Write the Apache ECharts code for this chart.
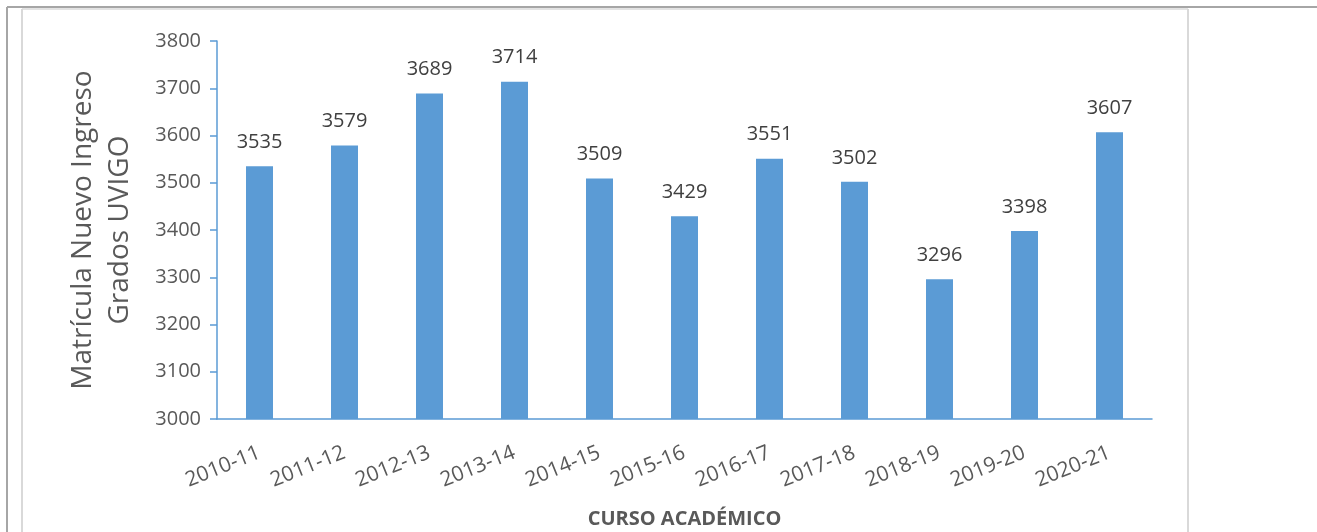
<!DOCTYPE html>
<html>
<head>
<meta charset="utf-8">
<script src="https://cdn.jsdelivr.net/npm/echarts@6/dist/echarts.min.js"></script>
<style>
  html, body { margin: 0; padding: 0; background: #fff; }
  #chart { width: 1317px; height: 532px; }
</style>
</head>
<body>
<div id="chart"></div>
<script>
// cursos y matrícula de nuevo ingreso
const cursos = ['2010-11', '2011-12', '2012-13', '2013-14', '2014-15', '2015-16',
  '2016-17', '2017-18', '2018-19', '2019-20', '2020-21']
const matricula = [3535, 3579, 3689, 3714, 3509, 3429, 3551, 3502, 3296, 3398, 3607]
const yTicks = [3000, 3800, 100] // min, max, interval

const font = '"Open Sans", sans-serif'
const chart = echarts.init(document.getElementById('chart'))

const option = {
  animation: false,
  grid: { left: 217, right: 165, top: 41, bottom: 113, outerBoundsMode: 'none', containLabel: false },
  graphic: [
    // marco de la tabla
    { type: 'line', shape: { x1: 7, y1: 7, x2: 1317, y2: 7 }, style: { stroke: '#a6a6a6', lineWidth: 2 } },
    { type: 'line', shape: { x1: 7, y1: 7, x2: 7, y2: 532 }, style: { stroke: '#a6a6a6', lineWidth: 2 } },
    { type: 'line', shape: { x1: 22, y1: 9, x2: 1188, y2: 9 }, style: { stroke: '#e3e3e3', lineWidth: 2 } },
    { type: 'line', shape: { x1: 22, y1: 9, x2: 22, y2: 532 }, style: { stroke: '#d9d9d9', lineWidth: 2 } },
    { type: 'line', shape: { x1: 1188, y1: 9, x2: 1188, y2: 532 }, style: { stroke: '#d9d9d9', lineWidth: 2 } }
  ],
  xAxis: {
    type: 'category',
    data: cursos,
    name: 'CURSO ACADÉMICO',
    nameLocation: 'middle',
    nameGap: 90,
    nameTextStyle: { fontFamily: font, fontSize: 20, fontWeight: 'bold', color: '#595959' },
    axisLine: { lineStyle: { color: '#5b9bd5', width: 1.5 } },
    axisTick: { length: 7, lineStyle: { color: '#5b9bd5', width: 1.5 } },
    axisLabel: { rotate: 22, margin: 33, fontFamily: font, fontSize: 21, color: '#595959' }
  },
  yAxis: {
    type: 'value',
    min: yTicks[0],
    max: yTicks[1],
    interval: yTicks[2],
    name: 'Matrícula Nuevo Ingreso\nGrados UVIGO',
    nameLocation: 'middle',
    nameGap: 78,
    nameTextStyle: { fontFamily: font, fontSize: 28, lineHeight: 37, color: '#595959' },
    axisLine: { show: true, lineStyle: { color: '#5b9bd5', width: 1.5 } },
    axisTick: { show: true, length: 7, lineStyle: { color: '#5b9bd5', width: 1.5 } },
    axisLabel: { margin: 16, fontFamily: font, fontSize: 20, color: '#595959', formatter: v => String(v) },
    splitLine: { show: false }
  },
  series: [
    {
      type: 'bar',
      data: matricula,
      barWidth: 27,
      itemStyle: { color: '#5b9bd5' },
      label: {
        show: true,
        position: 'top',
        distance: 14,
        fontFamily: font,
        fontSize: 20,
        color: '#404040'
      }
    }
  ]
}
chart.setOption(option)
</script>
</body>
</html>
